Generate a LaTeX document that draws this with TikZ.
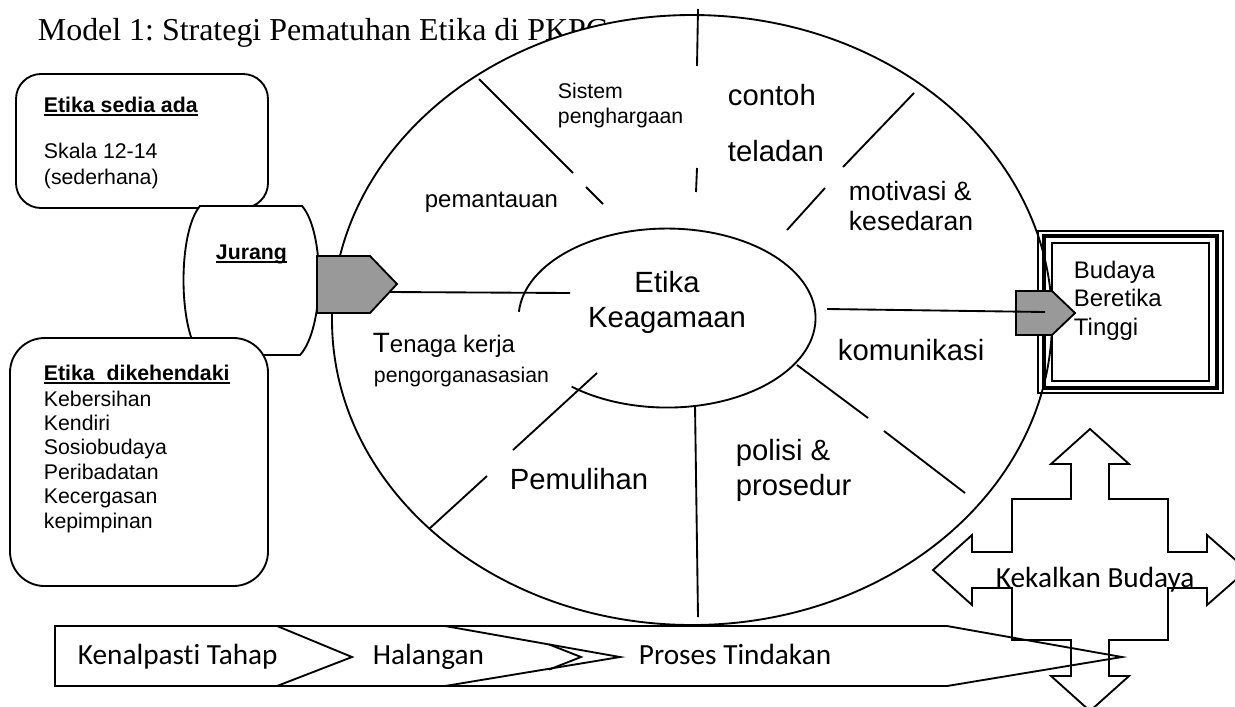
\documentclass[tikz,border=0pt]{standalone}
\usepackage{fontspec}
\setmainfont{Liberation Sans}
\newfontfamily\titlefont{Liberation Serif}
\newfontfamily\calfont[Ligatures=NoCommon]{Carlito}
\usetikzlibrary{positioning}
\definecolor{pentagrey}{HTML}{999999}
\newcommand\fs[2]{\fontsize{#1}{#2}\selectfont}
\newcommand\rows[1]{\begin{tabular}[t]{@{}l@{}}#1\end{tabular}}
\newcommand\ulbox[1]{\setbox0\hbox{#1}\rlap{\rule[-1.5pt]{\wd0}{0.6pt}}\box0}
\frenchspacing

\begin{document}
\begin{tikzpicture}[
    x=0.376pt, y=-0.376pt,
    line width=0.7pt,
    txt/.style={anchor=base west, inner sep=0pt},
    ctxt/.style={anchor=base, inner sep=0pt},
    rbox/.style={draw, fill=white, rounded corners=#1},
    pent/.style={draw, fill=pentagrey},
  ]
  \useasboundingbox (0,0) rectangle (1235,706);
  \clip (0,0) rectangle (1235,706);

  % title
  \node[txt, font=\titlefont\fs{12}{14}] (title) at (37,40) {Model 1: Strategi Pematuhan Etika di PKPG};

  % outer circle
  \draw[fill=white] (692,320) ellipse [x radius=360, y radius=305];

  % left boxes
  \draw[rbox=9.4pt] (16,74) rectangle (268,208);
  \node[txt, font=\fs{8}{9.6}] (sedia) at (43,112) {\ulbox{\bfseries Etika sedia ada}};
  \node[txt, font=\fs{8}{9.8}] (skala) at (43,158) {\rows{Skala 12-14\\(sederhana)}};

  \draw[fill=white] (200,206) -- (302,206) .. controls (325,232) and (325,328) .. (300,355)
    -- (200,355) .. controls (178,328) and (178,232) .. (200,206) -- cycle;
  \node[txt, font=\fs{8}{9.6}] (jurang) at (215,259) {\ulbox{\bfseries Jurang}};

  \draw[rbox=13pt] (10,338) rectangle (268,586);
  \node[txt, font=\fs{8}{9.2}] (kehendak) at (43,380) {\ulbox{\bfseries Etika\ \ dikehendaki}};
  \node[txt, font=\fs{8}{9.2}] (senarai) at (43,406)
    {\rows{Kebersihan\\Kendiri\\Sosiobudaya\\Peribadatan\\Kecergasan\\kepimpinan}};

  % spokes
  \draw (698,9) -- (697,66);
  \draw (697,168) -- (696,192);
  \draw (479,79) -- (573,173);
  \draw (586,187) -- (603,204);
  \draw (914,93) -- (843,167);
  \draw (825,188) -- (787,230);
  \draw (797,365) -- (868,418);
  \draw (884,431) -- (965,493);
  \draw (695,405) -- (698,617);
  \draw (597,373) -- (513,450);
  \draw (487,476) -- (429,529);

  % inner ellipse
  \draw (518.9,311.8) arc[start angle=184, end angle=490, x radius=148.5, y radius=89.5];
  \node[ctxt, font=\fs{11}{13.2}] (etika) at (667,292)
    {\begin{tabular}[t]{@{}c@{}}Etika\\Keagamaan\end{tabular}};

  % labels in the circle
  \node[txt, font=\fs{8}{9.4}] (sistem) at (557,98) {\rows{Sistem\\penghargaan}};
  \node[txt, font=\fs{11}{21.4}] (contoh) at (727,105) {\rows{contoh\\teladan}};
  \node[txt, font=\fs{9}{11}] (pantau) at (424,207) {pemantauan};
  \node[txt, font=\fs{10}{11.3}] (motivasi) at (848,200) {\rows{motivasi \&\\kesedaran}};
  \node[txt, font=\fs{9}{11}] (tenaga) at (372,352) {{\fs{10.5}{12}T}enaga kerja};
  \node[txt, font=\fs{8}{9.6}] (organ) at (373,382) {pengorganasasian};
  \node[txt, font=\fs{11}{13}] (komunikasi) at (837,360) {komunikasi};
  \node[txt, font=\fs{11}{13.2}] (polisi) at (735,460) {\rows{polisi \&\\prosedur}};
  \node[txt, font=\fs{11}{13}] (pulih) at (509,489) {Pemulihan};

  % gap arrow
  \draw[pent] (317,256) -- (370,256) -- (397,284) -- (370,313) -- (317,313) -- cycle;
  \coordinate (jurangtip) at (390,292);
  \coordinate (etikaW) at (570,293);
  \draw (jurangtip) -- (etikaW);

  % target culture
  \draw[line width=0.5pt] (1038,231) rectangle (1223,393);
  \draw[line width=1.6pt] (1044,236) rectangle (1217,388);
  \draw[line width=0.5pt] (1052,243) rectangle (1209,381);
  \node[txt, font=\fs{9}{10.9}] (budaya) at (1073,278) {\rows{Budaya\\Beretika\\Tinggi}};

  \draw[pent] (1016,291) -- (1052,291) -- (1075,313) -- (1052,335) -- (1016,335) -- cycle;
  \coordinate (etikaE) at (827,309);
  \coordinate (budayaW) at (1045,312);
  \draw (etikaE) -- (budayaW);

  % process bar
  \draw[fill=white] (55,626) -- (947,626) -- (1122,657) -- (947,686) -- (55,686) -- cycle;
  \draw (277,626) -- (352,657) -- (277,686);
  \draw (445,626) -- (620,657) -- (445,686);
  \draw (549,644.4) -- (581,657) -- (549,669.6);
  \node[txt, font=\calfont\fs{11}{13}] (kenal) at (77,664) {Kenalpasti Tahap};
  \node[txt, font=\calfont\fs{11}{13}] (halang) at (372,664) {Halangan};
  \node[txt, font=\calfont\fs{11}{13}] (proses) at (638,664) {Proses Tindakan};

  % four-way arrow
  \draw (1090,429) -- (1129,464) -- (1109,464) -- (1109,499) -- (1168,499) -- (1168,552)
    -- (1207,552) -- (1207,535) -- (1247,570) -- (1207,605) -- (1207,588) -- (1168,588)
    -- (1168,640) -- (1109,640) -- (1109,676) -- (1129,676) -- (1090,711) -- (1051,676)
    -- (1071,676) -- (1071,640) -- (1012,640) -- (1012,588) -- (972,588) -- (972,605)
    -- (933,570) -- (972,535) -- (972,552) -- (1012,552) -- (1012,499) -- (1071,499)
    -- (1071,464) -- (1051,464) -- cycle;
  \node[txt, font=\calfont\fs{11}{13}] (kekal) at (995,587) {Kekalkan Budaya};
\end{tikzpicture}
\end{document}
